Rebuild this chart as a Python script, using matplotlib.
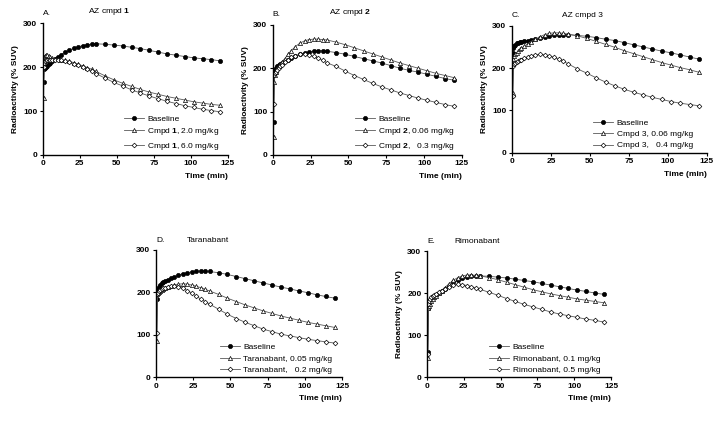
import matplotlib.pyplot as plt

plt.rcParams["font.family"] = ["Liberation Sans", "DejaVu Sans"]
plt.rcParams["mathtext.fontset"] = "custom"
plt.rcParams["mathtext.rm"] = "Liberation Sans"
plt.rcParams["mathtext.bf"] = "Liberation Sans:bold"

# sampling times (min)
t = [0.5, 1, 1.5, 2, 3, 4, 5, 6, 8, 10, 12, 15, 18, 21, 24, 27, 30, 33, 36,
     42, 48, 54, 60, 66, 72, 78, 84, 90, 96, 102, 108, 114, 120]

# A. AZ cmpd 1
a_base = [165, 195, 198, 200, 203, 207, 210, 213, 218, 223, 228, 234, 239, 243, 246, 249, 251, 252, 253,
          252, 250, 248, 245, 242, 238, 234, 230, 227, 224, 221, 219, 217, 214]
a_low = [130, 222, 226, 228, 227, 225, 223, 221, 219, 218, 217, 215, 213, 210, 206, 203, 199, 195, 190,
         180, 171, 163, 156, 149, 143, 138, 133, 129, 125, 121, 118, 115, 113]
a_high = [200, 210, 214, 215, 216, 217, 217, 217, 217, 216, 215, 213, 211, 208, 204, 200, 195, 190, 185,
          175, 165, 157, 148, 141, 134, 128, 122, 117, 112, 108, 104, 101, 98]

# B. AZ cmpd 2
b_base = [75, 190, 196, 200, 204, 207, 210, 212, 216, 220, 224, 228, 232, 235, 237, 239, 240, 240, 239,
          236, 232, 227, 222, 217, 212, 206, 200, 195, 191, 186, 181, 176, 172]
b_low = [42, 168, 185, 192, 200, 205, 210, 215, 222, 232, 240, 250, 258, 263, 266, 267, 267, 266, 265,
         260, 254, 247, 240, 233, 226, 219, 212, 206, 200, 194, 188, 183, 178]
b_high = [118, 185, 190, 192, 196, 200, 205, 208, 215, 220, 225, 229, 232, 232, 230, 227, 223, 218, 212,
          204, 193, 183, 174, 165, 157, 150, 143, 137, 131, 126, 121, 116, 112]

# C. AZ cmpd 3
c_base = [235, 248, 252, 255, 258, 260, 261, 262, 263, 265, 267, 269, 271, 273, 275, 277, 278, 279, 279,
          277, 275, 272, 268, 265, 260, 255, 250, 245, 240, 236, 231, 226, 221]
c_low = [140, 222, 228, 232, 236, 240, 244, 247, 252, 257, 262, 268, 274, 279, 282, 283, 283, 282, 280,
         276, 270, 263, 256, 249, 241, 234, 227, 220, 213, 207, 201, 196, 190]
c_high = [135, 205, 209, 211, 214, 216, 218, 220, 223, 226, 229, 231, 232, 231, 229, 225, 221, 216, 210,
          198, 188, 177, 167, 158, 150, 143, 137, 131, 126, 121, 117, 114, 111]

# D. Taranabant
d_base = [185, 200, 207, 212, 218, 222, 225, 227, 230, 233, 236, 240, 244, 246, 248, 249, 250, 250, 249,
          246, 242, 237, 232, 227, 222, 217, 212, 208, 203, 199, 194, 190, 186]
d_low = [85, 195, 198, 200, 204, 206, 208, 210, 212, 214, 216, 219, 220, 219, 217, 214, 211, 207, 203,
         195, 186, 178, 170, 163, 156, 150, 144, 139, 134, 129, 125, 121, 117]
d_high = [105, 195, 199, 202, 205, 208, 210, 211, 213, 214, 215, 213, 209, 204, 198, 191, 184, 178, 172,
          160, 148, 138, 129, 121, 113, 107, 101, 97, 93, 89, 86, 83, 80]

# E. Rimonabant
e_base = [60, 165, 175, 180, 186, 189, 192, 195, 200, 205, 210, 218, 226, 231, 235, 238, 240, 241, 241,
          240, 238, 236, 233, 230, 227, 223, 219, 215, 211, 207, 204, 200, 197]
e_low = [45, 165, 170, 175, 182, 186, 190, 194, 200, 206, 213, 222, 231, 237, 241, 243, 243, 242, 241,
         237, 232, 226, 220, 214, 208, 203, 198, 194, 190, 186, 183, 180, 177]
e_high = [55, 175, 180, 185, 190, 192, 195, 198, 202, 206, 210, 215, 219, 221, 220, 218, 215, 212, 209,
          202, 195, 187, 180, 173, 167, 161, 155, 150, 146, 142, 138, 135, 131]

# letter, title, axes rect, title x (axes frac), series, legend labels, legend x, y-label?
panels = [
    ("A.", r"AZ cmpd $\mathbf{1}$", [0.060, 0.632, 0.259, 0.313], 0.36, (a_base, a_low, a_high),
     ["Baseline", r"Cmpd $\mathbf{1}$, 2.0 mg/kg", r"Cmpd $\mathbf{1}$, 6.0 mg/kg"], 0.42, True),
    ("B.", r"AZ cmpd $\mathbf{2}$", [0.382, 0.632, 0.265, 0.309], 0.41, (b_base, b_low, b_high),
     ["Baseline", r"Cmpd $\mathbf{2}$, 0.06 mg/kg", r"Cmpd $\mathbf{2}$,   0.3 mg/kg"], 0.415, True),
    ("C.", "AZ cmpd 3", [0.717, 0.637, 0.273, 0.302], 0.36, (c_base, c_low, c_high),
     ["Baseline", "Cmpd 3, 0.06 mg/kg", "Cmpd 3,   0.4 mg/kg"], 0.40, True),
    ("D.", "Taranabant", [0.2185, 0.1045, 0.2605, 0.302], 0.28, (d_base, d_low, d_high),
     ["Baseline", "Taranabant, 0.05 mg/kg", "Taranabant,   0.2 mg/kg"], 0.325, False),
    ("E.", "Rimonabant", [0.598, 0.1045, 0.258, 0.299], 0.27, (e_base, e_low, e_high),
     ["Baseline", "Rimonabant, 0.1 mg/kg", "Rimonabant, 0.5 mg/kg"], 0.32, True),
]

fs = 6
fig = plt.figure(figsize=(7.14, 4.21), dpi=100)

for letter, title, rect, tx, series, labels, lx, ylab in panels:
    ax = fig.add_axes(rect)
    styles = [("o", "black"), ("^", "white"), ("D", "white")]
    for y, lab, (m, fc) in zip(series, labels, styles):
        ms = 3.0 if m != "D" else 2.4
        ax.plot(t, y, color="0.35", lw=0.6, marker=m, ms=ms, mfc=fc,
                mec="black", mew=0.5, label=lab)
    ax.set_xlim(0, 125)
    ax.set_ylim(0, 300)
    ax.set_xticks([0, 25, 50, 75, 100, 125])
    ax.set_yticks([0, 100, 200, 300])
    for s in ["top", "right"]:
        ax.spines[s].set_visible(False)
    for s in ["left", "bottom"]:
        ax.spines[s].set_linewidth(1.0)
    ax.tick_params(labelsize=fs, length=2.5, width=0.8, pad=1.5)
    for lbl in ax.get_xticklabels() + ax.get_yticklabels():
        lbl.set_fontweight("bold")
    if ylab:
        ax.set_ylabel("Radioactivity (% SUV)", fontsize=fs, fontweight="bold", labelpad=3)
    ax.text(1.0, -0.14, "Time (min)", transform=ax.transAxes, ha="right", va="top",
            fontsize=fs, fontweight="bold")
    ax.text(0.0, 1.05, letter, transform=ax.transAxes, ha="left", va="bottom", fontsize=fs)
    ax.text(tx, 1.05, title, transform=ax.transAxes, ha="center", va="bottom", fontsize=fs)
    ax.legend(loc="lower left", bbox_to_anchor=(lx, 0.0), frameon=False, fontsize=fs,
              handlelength=2.4, handletextpad=0.4, labelspacing=0.4, borderaxespad=0)

plt.savefig("out.png", dpi=100)
